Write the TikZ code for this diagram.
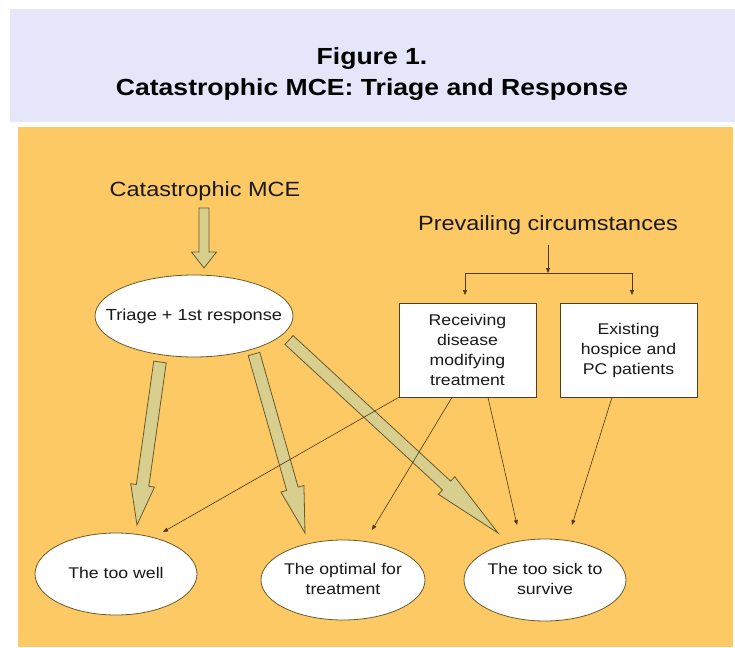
\documentclass[tikz,border=0pt]{standalone}
\usepackage{fontspec}
\setmainfont{Liberation Sans}[FakeStretch=1.14]
\usetikzlibrary{shapes.geometric,arrows.meta,calc}
\definecolor{lav}{RGB}{230,230,250}
\definecolor{panel}{RGB}{253,201,101}
\definecolor{khaki}{RGB}{216,206,142}
\definecolor{olive}{RGB}{105,90,45}
\definecolor{linebrown}{RGB}{80,55,20}
\definecolor{ink}{RGB}{25,25,25}
\newcommand{\ctext}[1]{\makebox[0pt]{\begin{tabular}{@{}c@{}}#1\end{tabular}}}
\newcommand{\blockarrow}[5]{%
  \path ($(#2)!#3!(#1)$) coordinate (bh);
  \filldraw[blockarr] ($(#1)!#4!90:(#2)$) -- ($(bh)!#4!90:(#2)$) -- ($(bh)!#5!90:(#2)$) -- (#2)
    -- ($(bh)!#5!-90:(#2)$) -- ($(bh)!#4!-90:(#2)$) -- ($(#1)!#4!-90:(#2)$) -- cycle;}
\tikzset{
  blockarr/.style={fill=khaki, draw=olive, line width=0.8pt, line join=miter},
  oval/.style={ellipse, draw=olive, line width=0.8pt, fill=white, inner sep=0pt,
    font=\fontsize{15.5}{20}\selectfont, text=ink},
  infobox/.style={rectangle, draw=olive!70!black, line width=0.8pt, fill=white,
    minimum width=137pt, minimum height=94pt, align=center,
    font=\fontsize{15.5}{20}\selectfont, text=ink},
  biglabel/.style={anchor=base, font=\fontsize{20.6}{24}\selectfont, text=ink, inner sep=0pt},
  titletext/.style={anchor=base, font=\bfseries\fontsize{23.3}{28}\selectfont, text=black, inner sep=0pt},
  thinarrow/.style={draw=linebrown, line width=0.6pt, -{Triangle[length=5pt,width=4pt]}},
  thinline/.style={draw=linebrown, line width=0.6pt}
}
\begin{document}
\begin{tikzpicture}[x=1pt,y=-1pt]
\useasboundingbox (0,0) rectangle (735,647);
\fill[white] (0,0) rectangle (735,647);
% panels
\fill[lav] (10,9) rectangle (735,122);
\fill[panel] (18,127) rectangle (733,647);
% title
\node[titletext] (t1) at (372,65) {Figure 1.};
\node[titletext] (t2) at (372,96) {Catastrophic MCE: Triage and Response};
% labels
\node[biglabel] (mce) at (205,196) {Catastrophic MCE};
\node[biglabel] (prev) at (548,230) {Prevailing circumstances};
% ellipses
\node[oval, minimum width=198pt, minimum height=82pt, font=\fontsize{16}{20}\selectfont] (triage) at (194,316) {\ctext{Triage + 1st response}};
\node[oval, minimum width=162pt, minimum height=82pt] (well) at (116,574) {\ctext{The too well}};
\node[oval, minimum width=164pt, minimum height=80pt] (opt) at (343,580) {\ctext{The optimal for\\treatment}};
\node[oval, minimum width=162pt, minimum height=82pt] (sick) at (545,580) {\ctext{The too sick to\\survive}};
% boxes
\node[infobox] (box1) at (467.5,350) {Receiving\\disease\\modifying\\treatment};
\node[infobox] (box2) at (628.5,350) {Existing\\hospice and\\PC patients};
% coordinates for block arrows
\coordinate (d0) at (204,208);  \coordinate (d1) at (204,268);
\coordinate (l0) at (160,362);  \coordinate (l1) at (137,525);
\coordinate (m0) at (254,354);  \coordinate (m1) at (305,533);
\coordinate (r0) at (289,340);  \coordinate (r1) at (498,533);
\blockarrow{d0}{d1}{16pt}{5pt}{12.5pt}
\blockarrow{l0}{l1}{40pt}{6.3pt}{12pt}
\blockarrow{m0}{m1}{46pt}{6pt}{12pt}
\blockarrow{r0}{r1}{70pt}{6pt}{12pt}
% prevailing circumstances tree
\coordinate (p0) at (548,245);
\coordinate (j) at (548,273);
\coordinate (jl) at (465,273);
\coordinate (jr) at (632,273);
\coordinate (bl) at (465,295);
\coordinate (br) at (632,295);
\draw[thinarrow] (p0) -- (j);
\draw[thinline] (jl) -- (jr);
\draw[thinarrow] (jl) -- (bl);
\draw[thinarrow] (jr) -- (br);
% thin arrows to outcomes
\coordinate (ewell) at (163,532);
\coordinate (eopt) at (372,530);
\coordinate (esick1) at (517,525);
\coordinate (esick2) at (572,525);
\draw[thinarrow] (box1.south west) -- (ewell);
\draw[thinarrow] ($(box1.south)+(-15.5,0)$) -- (eopt);
\draw[thinarrow] ($(box1.south)+(20.5,0)$) -- (esick1);
\draw[thinarrow] ($(box2.south)+(-16.5,0)$) -- (esick2);
\end{tikzpicture}
\end{document}
